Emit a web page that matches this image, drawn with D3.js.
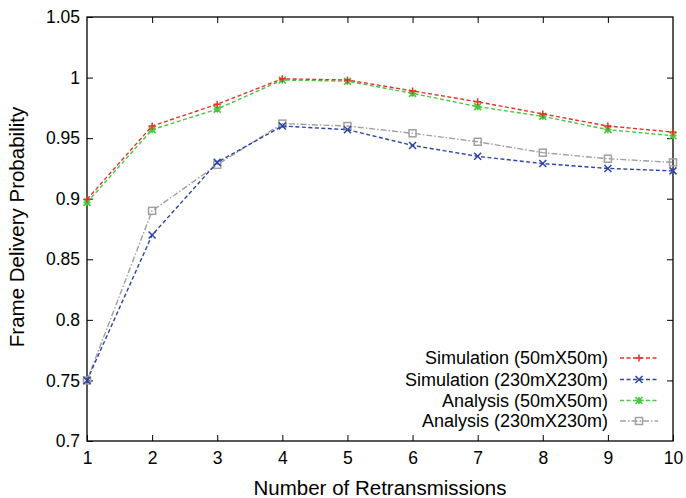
<!DOCTYPE html>
<html>
<head>
<meta charset="utf-8">
<script src="https://cdn.jsdelivr.net/npm/d3@7"></script>
<style>
  html, body { margin: 0; padding: 0; background: #fff; }
  svg { display: block; font-family: "Liberation Sans", Arial, sans-serif; }
</style>
</head>
<body>
<svg id="chart" width="686" height="498"></svg>
<script>
// Number of retransmissions on the x axis
const retransmissions = [1, 2, 3, 4, 5, 6, 7, 8, 9, 10];

// Frame delivery probability per series
const simSmall   = [0.8995, 0.960, 0.978, 0.999, 0.998, 0.989, 0.980, 0.970, 0.960, 0.955];
const simLarge   = [0.750, 0.870, 0.930, 0.960, 0.957, 0.944, 0.935, 0.929, 0.925, 0.923];
const anaSmall   = [0.897, 0.957, 0.974, 0.998, 0.997, 0.987, 0.976, 0.968, 0.957, 0.952];
const anaLarge   = [0.750, 0.890, 0.928, 0.962, 0.960, 0.954, 0.947, 0.938, 0.933, 0.930];

const seriesNames = [
  "Simulation (50mX50m)",
  "Simulation (230mX230m)",
  "Analysis (50mX50m)",
  "Analysis (230mX230m)"
];

const yTicks = [0.7, 0.75, 0.8, 0.85, 0.9, 0.95, 1, 1.05];
const xTicks = [1, 2, 3, 4, 5, 6, 7, 8, 9, 10];

const series = [
  { name: seriesNames[0], values: simSmall, color: "#e8302a", dash: "4,2.5", marker: "plus" },
  { name: seriesNames[1], values: simLarge, color: "#2a44a8", dash: "4,2.5", marker: "cross" },
  { name: seriesNames[2], values: anaSmall, color: "#48c840", dash: "4,2.5", marker: "star" },
  { name: seriesNames[3], values: anaLarge, color: "#a0a0a0", dash: "6,2,1.5,2", marker: "square" }
];

const svg = d3.select("#chart");
const plotLeft = 87, plotRight = 673, plotTop = 17, plotBottom = 441;

const x = d3.scaleLinear().domain([1, 10]).range([plotLeft, plotRight]);
const y = d3.scaleLinear().domain([0.7, 1.05]).range([plotBottom, plotTop]);

const fmt = d => String(+d.toFixed(2));

// Axes with inward ticks on all four sides
const tickLen = 6;
const axisStyle = g => {
  g.select(".domain").remove();
  g.selectAll(".tick line").attr("stroke", "#000").attr("stroke-width", 1);
  g.selectAll(".tick text").attr("fill", "#000").style("font-size", "17.5px")
    .style("font-family", "Liberation Sans, Arial, sans-serif");
};

svg.append("g").attr("transform", `translate(0,${plotBottom})`)
  .call(d3.axisBottom(x).tickValues(xTicks).tickFormat(d3.format("d"))
    .tickSizeInner(-tickLen).tickSizeOuter(0).tickPadding(11))
  .call(axisStyle);

svg.append("g").attr("transform", `translate(0,${plotTop})`)
  .call(d3.axisTop(x).tickValues(xTicks.slice(1, -1)).tickFormat("")
    .tickSizeInner(-tickLen).tickSizeOuter(0))
  .call(axisStyle);

svg.append("g").attr("transform", `translate(${plotLeft},0)`)
  .call(d3.axisLeft(y).tickValues(yTicks).tickFormat(fmt)
    .tickSizeInner(-tickLen).tickSizeOuter(0).tickPadding(7))
  .call(axisStyle);

svg.append("g").attr("transform", `translate(${plotRight},0)`)
  .call(d3.axisRight(y).tickValues(yTicks.slice(1, -1)).tickFormat("")
    .tickSizeInner(-tickLen).tickSizeOuter(0))
  .call(axisStyle);

// Plot border
svg.append("rect")
  .attr("x", plotLeft).attr("y", plotTop)
  .attr("width", plotRight - plotLeft).attr("height", plotBottom - plotTop)
  .attr("fill", "none").attr("stroke", "#000").attr("stroke-width", 1.3);

// Marker shapes
function drawMarker(g, type, cx, cy, color) {
  const s = 3.5;
  if (type === "plus") {
    g.append("path").attr("d", `M${cx - s},${cy}H${cx + s}M${cx},${cy - s}V${cy + s}`)
      .attr("stroke", color).attr("stroke-width", 1.5).attr("fill", "none");
  } else if (type === "cross") {
    g.append("path").attr("d", `M${cx - s},${cy - s}L${cx + s},${cy + s}M${cx - s},${cy + s}L${cx + s},${cy - s}`)
      .attr("stroke", color).attr("stroke-width", 1.5).attr("fill", "none");
  } else if (type === "star") {
    g.append("path").attr("d",
      `M${cx - s},${cy}H${cx + s}M${cx},${cy - s}V${cy + s}` +
      `M${cx - s},${cy - s}L${cx + s},${cy + s}M${cx - s},${cy + s}L${cx + s},${cy - s}`)
      .attr("stroke", color).attr("stroke-width", 1.6).attr("fill", "none");
  } else if (type === "square") {
    g.append("rect").attr("x", cx - s).attr("y", cy - s)
      .attr("width", 2 * s).attr("height", 2 * s)
      .attr("stroke", color).attr("stroke-width", 1.5).attr("fill", "none");
  }
}

const line = d3.line().x((d, i) => x(retransmissions[i])).y(d => y(d));

// Draw in reverse so the red series sits on top
[...series].reverse().forEach(s => {
  const g = svg.append("g");
  g.append("path").datum(s.values).attr("d", line)
    .attr("fill", "none").attr("stroke", s.color)
    .attr("stroke-width", 1.4).attr("stroke-dasharray", s.dash);
  s.values.forEach((v, i) => drawMarker(g, s.marker, x(retransmissions[i]), y(v), s.color));
});

// Legend
const legendRows = [358, 379.5, 400.5, 421];
series.forEach((s, i) => {
  const ly = legendRows[i];
  svg.append("text").attr("x", 608).attr("y", ly).attr("dy", "0.35em")
    .attr("text-anchor", "end").style("font-size", "18px").attr("fill", "#000")
    .text(s.name);
  svg.append("line").attr("x1", 620).attr("x2", 658).attr("y1", ly).attr("y2", ly)
    .attr("stroke", s.color).attr("stroke-width", 1.4).attr("stroke-dasharray", s.dash);
  drawMarker(svg.append("g"), s.marker, 639, ly, s.color);
});

// Axis titles
svg.append("text").attr("x", 380).attr("y", 495)
  .attr("text-anchor", "middle").style("font-size", "20.5px").attr("fill", "#000")
  .text("Number of Retransmissions");

svg.append("text").attr("transform", `translate(23.5,227) rotate(-90)`)
  .attr("text-anchor", "middle").style("font-size", "20.5px").attr("fill", "#000")
  .text("Frame Delivery Probability");
</script>
</body>
</html>
